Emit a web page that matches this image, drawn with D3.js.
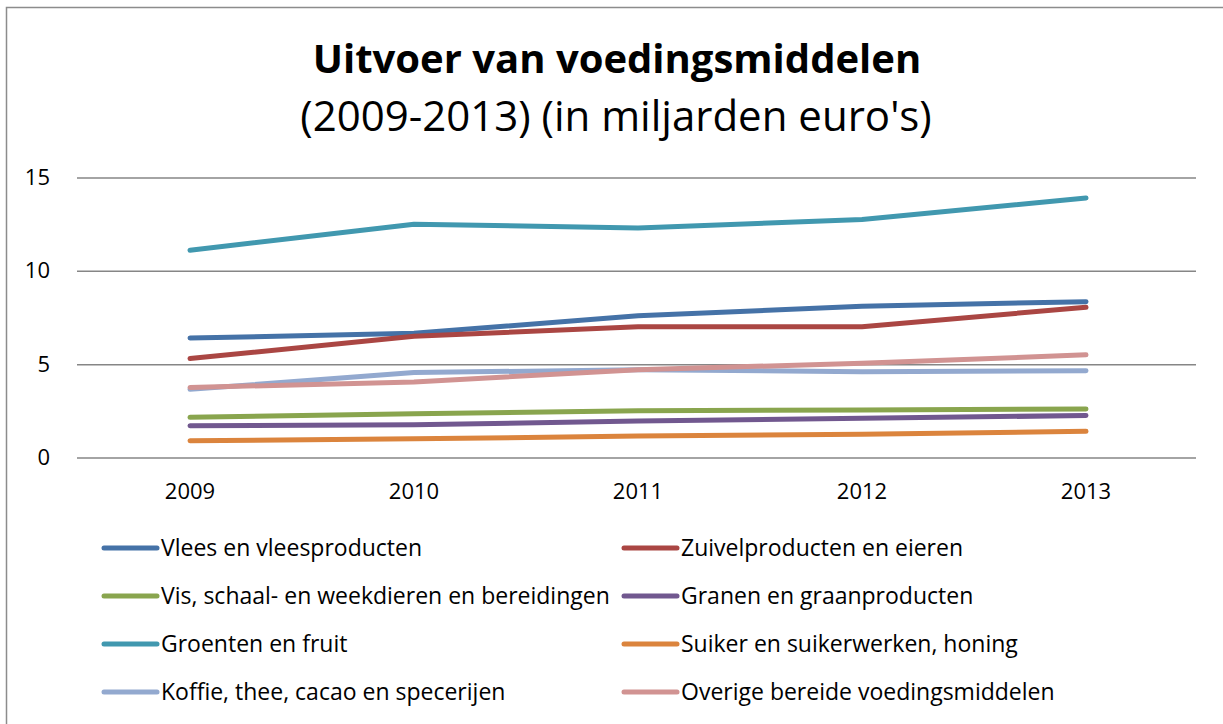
<!DOCTYPE html>
<html><head><meta charset="utf-8">
<script src="https://cdn.jsdelivr.net/npm/d3@7"></script>
<style>
html,body{margin:0;padding:0;background:#fff;}
svg{display:block;font-family:"Open Sans",sans-serif;}
</style></head>
<body>
<svg id="chart" width="1223" height="724"></svg>
<script>
const years = ["2009","2010","2011","2012","2013"];
const seriesNames = [
  "Vlees en vleesproducten",
  "Zuivelproducten en eieren",
  "Vis, schaal- en weekdieren en bereidingen",
  "Granen en graanproducten",
  "Groenten en fruit",
  "Suiker en suikerwerken, honing",
  "Koffie, thee, cacao en specerijen",
  "Overige bereide voedingsmiddelen"
];
const vlees    = [6.4, 6.65, 7.6, 8.1, 8.35];
const zuivel   = [5.3, 6.5, 7.0, 7.0, 8.05];
const vis      = [2.15, 2.35, 2.5, 2.55, 2.6];
const granen   = [1.7, 1.75, 1.95, 2.1, 2.25];
const groenten = [11.1, 12.5, 12.3, 12.75, 13.9];
const suiker   = [0.9, 1.0, 1.15, 1.25, 1.4];
const koffie   = [3.65, 4.55, 4.7, 4.6, 4.65];
const overige  = [3.75, 4.05, 4.7, 5.05, 5.5];
const yTicks = [0, 5, 10, 15];
const colors = ["#4572A7","#AA4643","#89A54E","#71588F","#4198AF","#DB843D","#93A9CF","#D19392"];
const titleText = "Uitvoer van voedingsmiddelen";
const subtitleText = "(2009-2013) (in miljarden euro's)";

const allValues = [vlees, zuivel, vis, granen, groenten, suiker, koffie, overige];
const series = seriesNames.map((n,i)=>({name:n, values:allValues[i], color:colors[i]}));

const svg = d3.select("#chart");
svg.append("rect").attr("x",6.5).attr("y",7.5).attr("width",1240).attr("height",740)
  .attr("fill","#fff").attr("stroke","#8c8c8c").attr("stroke-width",1.5);

svg.append("text").attr("x",617).attr("y",73).attr("text-anchor","middle")
  .attr("font-weight","bold").attr("font-size",40).attr("fill","#000").text(titleText);
svg.append("text").attr("x",616).attr("y",131).attr("text-anchor","middle")
  .attr("font-size",42).attr("fill","#000").text(subtitleText);

const x = d3.scaleBand().domain(years).range([78,1198]);
const y = d3.scaleLinear().domain([0,15]).range([457.5,177.5]);

const yAxis = d3.axisLeft(y).tickValues(yTicks).tickSize(-(1196-77)).tickPadding(27).tickFormat(d3.format("d"));
const gy = svg.append("g").attr("transform","translate(77,0)").call(yAxis);
gy.select(".domain").remove();
gy.selectAll(".tick line").attr("stroke","#868686").attr("stroke-width",1.5);
gy.selectAll(".tick text").attr("font-size",22).attr("fill","#000").attr("font-family","'Open Sans',sans-serif");

const xAxis = d3.axisBottom(x).tickSize(0).tickPadding(0);
const gx = svg.append("g").attr("transform","translate(0,457.5)").call(xAxis);
gx.select(".domain").remove();
gx.selectAll(".tick text").attr("font-size",22).attr("fill","#000").attr("y",41.5).attr("dy",0).attr("font-family","'Open Sans',sans-serif");

const line = d3.line().x((d,i)=>x(years[i])+x.bandwidth()/2).y(d=>y(d));
svg.append("g").selectAll("path").data(series).join("path")
  .attr("d",d=>line(d.values)).attr("fill","none").attr("stroke",d=>d.color)
  .attr("stroke-width",5).attr("stroke-linecap","round").attr("stroke-linejoin","round");

const legCols = [102, 622];
const legRows = [548, 596, 644, 692];
const lg = svg.append("g").selectAll("g").data(series).join("g")
  .attr("transform",(d,i)=>`translate(${legCols[i%2]},${legRows[Math.floor(i/2)]})`);
lg.append("line").attr("x1",2).attr("x2",55).attr("y1",0).attr("y2",0)
  .attr("stroke",d=>d.color).attr("stroke-width",5).attr("stroke-linecap","round");
lg.append("text").attr("x",59).attr("y",0).attr("dy","0.36em").attr("font-size",23)
  .attr("fill","#000").text(d=>d.name);
</script>
</body></html>
